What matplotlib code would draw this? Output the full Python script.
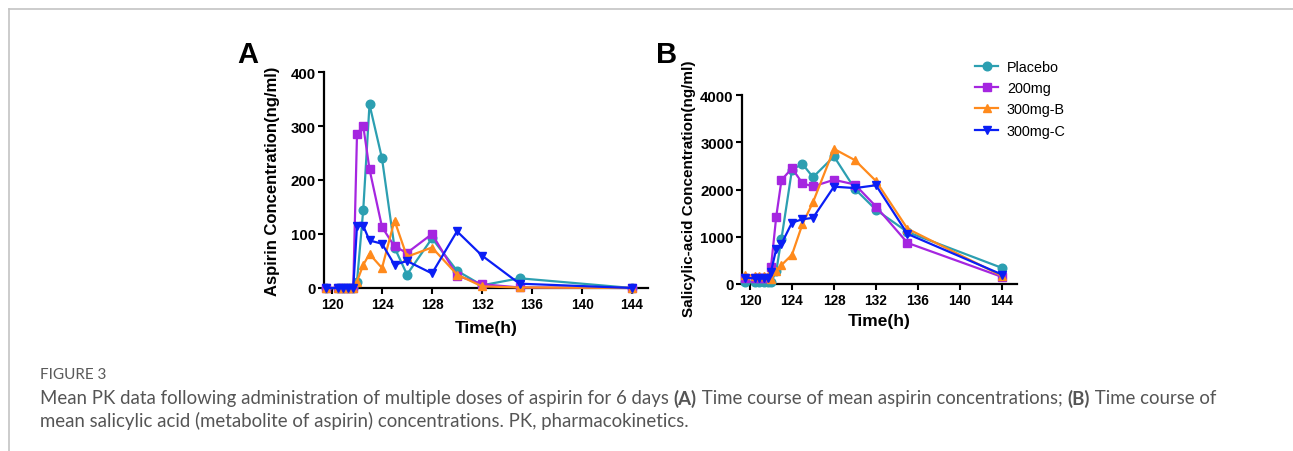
import matplotlib
matplotlib.use("Agg")
import matplotlib.pyplot as plt
from matplotlib.lines import Line2D

# ---------------- data ----------------
time_h = [119.5, 120.5, 120.9, 121.3, 121.7, 122, 122.5, 123, 124, 125, 126, 128, 130, 132, 135, 144]
groups = ["Placebo", "200mg", "300mg-B", "300mg-C"]

aspirin_placebo = [0, 0, 0, 0, 0, 12, 145, 340, 240, 75, 25, 92, 32, 5, 18, 0]
aspirin_200mg   = [0, 0, 0, 0, 0, 285, 300, 220, 113, 77, 65, 100, 23, 7, 1, 0]
aspirin_300mgB  = [0, 0, 0, 0, 0, 12, 43, 63, 37, 125, 58, 75, 25, 3, 1, 0]
aspirin_300mgC  = [0, 0, 0, 0, 0, 115, 115, 88, 82, 43, 50, 27, 105, 60, 8, 0]

sal_placebo = [50, 50, 50, 50, 50, 40, 270, 960, 2420, 2540, 2260, 2700, 2010, 1570, 1100, 340]
sal_200mg   = [130, 130, 130, 130, 130, 355, 1425, 2200, 2450, 2130, 2065, 2205, 2105, 1640, 870, 150]
sal_300mgB  = [200, 170, 170, 170, 170, 100, 270, 400, 620, 1270, 1730, 2860, 2620, 2180, 1170, 170]
sal_300mgC  = [130, 120, 120, 120, 120, 260, 740, 850, 1300, 1370, 1400, 2060, 2030, 2090, 1060, 200]

x_ticks = [120, 124, 128, 132, 136, 140, 144]
a_yticks = [0, 100, 200, 300, 400]
b_yticks = [0, 1000, 2000, 3000, 4000]

caption_title = "FIGURE 3"
caption_parts_1 = [("Mean PK data following administration of multiple doses of aspirin for 6 days ", "normal"),
                   ("(A)", "bold"),
                   (" Time course of mean aspirin concentrations; ", "normal"),
                   ("(B)", "bold"),
                   (" Time course of", "normal")]
caption_line_2 = "mean salicylic acid (metabolite of aspirin) concentrations. PK, pharmacokinetics."

# ---------------- style ----------------
colors = ["#2C9FB1", "#A526E0", "#FF8A1C", "#0A1EF5"]
markers = ["o", "s", "^", "v"]

W, H = 1293, 452
fig = plt.figure(figsize=(W / 100, H / 100), dpi=100)
plt.rcParams["font.family"] = ["Liberation Sans", "DejaVu Sans"]


def fig_axes(left, right, top, bottom):
    return fig.add_axes([left / W, 1 - bottom / H, (right - left) / W, (bottom - top) / H])


ax_a = fig_axes(324, 648, 73, 289)
ax_b = fig_axes(742, 1017, 96, 285)

series_a = [aspirin_placebo, aspirin_200mg, aspirin_300mgB, aspirin_300mgC]
series_b = [sal_placebo, sal_200mg, sal_300mgB, sal_300mgC]

for ax, series in ((ax_a, series_a), (ax_b, series_b)):
    for i, (ys, name) in enumerate(zip(series, groups)):
        ax.plot(time_h, ys, color=colors[i], marker=markers[i], markersize=6.2,
                linewidth=1.6, label=name, clip_on=False, zorder=3 + i)
    for s in ("top", "right"):
        ax.spines[s].set_visible(False)
    for s in ("left", "bottom"):
        ax.spines[s].set_linewidth(1.6)
    ax.tick_params(axis="both", direction="out", length=4.5, width=1.5, pad=2)
    ax.tick_params(axis="x", labelsize=9.8)
    ax.tick_params(axis="y", labelsize=10.8, pad=1.5)
    ax.set_xticks(x_ticks)
    ax.set_xlabel("Time(h)", fontsize=12.5, fontweight="bold")
    ax.xaxis.label.set_va("center")

ax_a.set_xlim(119.36, 145.28)
ax_a.set_ylim(0, 400)
ax_a.set_yticks(a_yticks)
ax_a.set_ylabel("Aspirin Concentration(ng/ml)", fontsize=12, fontweight="bold")
ax_a.yaxis.label.set_va("center")
ax_a.yaxis.set_label_coords((273 - 324) / 324, 0.5)
ax_a.xaxis.set_label_coords(0.5, (289 - 328) / 216)

ax_b.set_xlim(119.24, 145.43)
ax_b.set_ylim(0, 4000)
ax_b.set_yticks(b_yticks)
ax_b.set_ylabel("Salicylic-acid Concentration(ng/ml)", fontsize=11, fontweight="bold")
ax_b.yaxis.label.set_va("center")
ax_b.yaxis.set_label_coords((689 - 742) / 275, (285 - 189) / 189)
ax_b.xaxis.set_label_coords(0.5, (285 - 322) / 189)

for ax in (ax_a, ax_b):
    for lab in ax.get_xticklabels() + ax.get_yticklabels():
        lab.set_fontweight("bold")

# panel letters
fig.text(248 / W, 1 - 55 / H, "A", fontsize=21, fontweight="bold", ha="center", va="center")
fig.text(667 / W, 1 - 55 / H, "B", fontsize=21, fontweight="bold", ha="center", va="center")

# legend
ax_b.legend(loc="upper left", bbox_to_anchor=(975 / W, 1 - 61 / H), bbox_transform=fig.transFigure,
            frameon=False, fontsize=10.4, handlelength=1.6, handletextpad=0.6, labelspacing=0.5,
            borderpad=0, borderaxespad=0)

# frame lines
fig.add_artist(Line2D([9 / W, 1], [1 - 10 / H, 1 - 10 / H], color="#c4c4c4", linewidth=1.2,
                      transform=fig.transFigure))
fig.add_artist(Line2D([9 / W, 9 / W], [0, 1 - 10 / H], color="#c4c4c4", linewidth=1.2,
                      transform=fig.transFigure))

# caption
cap_font = ["Lato", "DejaVu Sans"]
fig.text(40 / W, 1 - 375 / H, caption_title, fontsize=11, color="#5a5a5a", family=cap_font,
         ha="left", va="center")

fig.canvas.draw()
renderer = fig.canvas.get_renderer()

# measure natural width of line 1 at a base size, then scale to the reference width
base = 11.0
tmp = []
x = 40
for txt, wt in caption_parts_1:
    t = fig.text(x / W, 0.5, txt, fontsize=base, family=cap_font, fontweight=wt, ha="left")
    bb = t.get_window_extent(renderer=renderer)
    x = bb.x1
    tmp.append(t)
for t in tmp:
    t.remove()
cap_size = base * (1220 - 40) / (x - 40)

x = 40
for txt, wt in caption_parts_1:
    t = fig.text(x / W, 1 - 399 / H, txt, fontsize=cap_size, color="#555555", family=cap_font,
                 fontweight=wt, ha="left", va="center")
    bb = t.get_window_extent(renderer=renderer)
    x = bb.x1
fig.text(40 / W, 1 - 421 / H, caption_line_2, fontsize=cap_size, color="#555555", family=cap_font,
         ha="left", va="center")

fig.savefig("out.png", dpi=100)
